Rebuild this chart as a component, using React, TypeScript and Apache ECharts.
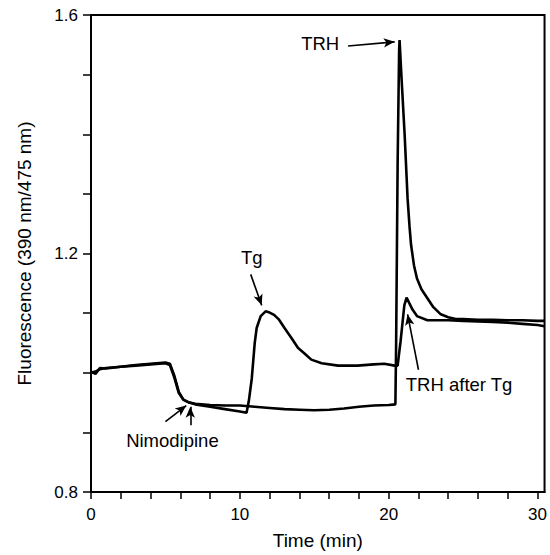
import React, { useEffect, useRef } from "react";
import * as echarts from "echarts";

// Trace with thapsigargin (Tg) followed by TRH after Tg
const tgTime = [0, 0.3, 0.6, 1, 2, 3, 4, 5, 5.3, 5.6, 5.9, 6.2, 6.6, 7, 8, 9, 10, 10.45, 10.6, 10.8, 11.0, 11.13, 11.4, 11.73, 12.0, 12.3, 12.6, 13.0, 13.5, 13.9, 14.4, 14.8, 15.5, 16.6, 17.9, 19.0, 19.7, 20.4, 20.6, 20.8, 21.05, 21.2, 21.4, 21.6, 21.9, 22.6, 23, 24, 25, 26, 27, 28, 29, 30, 30.47];
const tgValues = [1.002, 0.998, 1.008, 1.007, 1.010, 1.013, 1.015, 1.017, 1.015, 0.995, 0.968, 0.955, 0.950, 0.947, 0.943, 0.939, 0.935, 0.933, 0.952, 0.990, 1.050, 1.075, 1.095, 1.103, 1.101, 1.097, 1.090, 1.075, 1.057, 1.042, 1.031, 1.022, 1.016, 1.012, 1.012, 1.014, 1.015, 1.012, 1.012, 1.053, 1.113, 1.126, 1.116, 1.106, 1.095, 1.088, 1.088, 1.088, 1.087, 1.086, 1.085, 1.084, 1.082, 1.080, 1.078];

// Trace with TRH alone
const trhTime = [0, 0.3, 0.6, 1, 2, 3, 4, 5, 5.3, 5.6, 5.9, 6.2, 6.6, 7, 8, 9, 10, 11, 12, 13, 14, 15, 16, 17, 18, 19, 20, 20.45, 20.5, 20.6, 20.7, 20.73, 20.85, 21.07, 21.27, 21.4, 21.5, 21.7, 21.9, 22.2, 22.6, 23.0, 23.5, 24.0, 24.5, 25, 26, 27, 28, 29, 30, 30.47];
const trhValues = [1.000, 1.002, 1.006, 1.008, 1.010, 1.012, 1.014, 1.016, 1.013, 0.992, 0.966, 0.955, 0.950, 0.948, 0.946, 0.945, 0.945, 0.943, 0.941, 0.939, 0.938, 0.937, 0.938, 0.940, 0.943, 0.945, 0.946, 0.947, 1.05, 1.35, 1.54, 1.558, 1.50, 1.40, 1.292, 1.245, 1.215, 1.180, 1.158, 1.140, 1.125, 1.110, 1.098, 1.093, 1.090, 1.090, 1.089, 1.089, 1.088, 1.088, 1.087, 1.087];

const yTickLabels = [0.8, 1.2, 1.6];
const xTickLabels = [0, 10, 20, 30];

// Annotation labels [text, t, value]
const labels: [string, number, number][] = [
  ["TRH", 15.4, 1.552],
  ["Tg", 10.8, 1.193],
  ["Nimodipine", 5.47, 0.887],
  ["TRH after Tg", 24.73, 0.98],
];
// Annotation arrows [t1, v1, t2, v2] (arrowhead at second point)
const arrows: [number, number, number, number][] = [
  [17.27, 1.548, 20.4, 1.555],
  [10.73, 1.165, 11.47, 1.113],
  [5.0, 0.918, 6.4, 0.945],
  [6.67, 0.912, 6.67, 0.943],
  [22.0, 1.005, 21.27, 1.098],
];

const FONT = "Liberation Sans, Arial, Helvetica, sans-serif";

export default function App() {
  const ref = useRef<HTMLDivElement>(null);
  useEffect(() => {
    if (!ref.current) return;
    const chart = echarts.init(ref.current, null, { renderer: "svg" });
    const toPairs = (t: number[], v: number[]) => t.map((x, i) => [x, v[i]]);
    chart.setOption({
      animation: false,
      backgroundColor: "#fff",
      grid: {
        left: 91,
        right: 2,
        top: 15,
        bottom: 60,
        show: true,
        borderColor: "#000",
        borderWidth: 2,
      },
      xAxis: {
        type: "value",
        min: 0,
        max: 30.47,
        interval: 2,
        name: "Time (min)",
        nameLocation: "middle",
        nameGap: 39,
        nameTextStyle: { fontFamily: FONT, fontSize: 19, color: "#000" },
        axisLine: { show: true, onZero: false, lineStyle: { color: "#000", width: 2 } },
        axisTick: { show: true, length: 7, lineStyle: { color: "#000", width: 1.5 } },
        splitLine: { show: false },
        axisLabel: {
          fontFamily: FONT,
          fontSize: 17,
          color: "#000",
          margin: 14,
          showMaxLabel: false,
          formatter: (v: number) =>
            xTickLabels.some((x) => Math.abs(x - v) < 1e-6) ? String(v) : "",
        },
      },
      yAxis: {
        type: "value",
        min: 0.8,
        max: 1.6,
        interval: 0.1,
        name: "Fluorescence (390 nm/475 nm)",
        nameLocation: "middle",
        nameGap: 57,
        nameTextStyle: { fontFamily: FONT, fontSize: 19, color: "#000" },
        axisLine: { show: true, onZero: false, lineStyle: { color: "#000", width: 2 } },
        axisTick: { show: true, length: 8, lineStyle: { color: "#000", width: 1.5 } },
        splitLine: { show: false },
        axisLabel: {
          fontFamily: FONT,
          fontSize: 17,
          color: "#000",
          margin: 13,
          formatter: (v: number) =>
            yTickLabels.some((y) => Math.abs(y - v) < 1e-6) ? v.toFixed(1) : "",
        },
      },
      series: [
        {
          type: "line",
          name: "Tg",
          data: toPairs(tgTime, tgValues),
          showSymbol: false,
          symbol: "none",
          lineStyle: { color: "#000", width: 2.6 },
          z: 3,
          markPoint: {
            silent: true,
            symbol: "circle",
            symbolSize: 0,
            data: labels.map(([text, t, v]) => ({
              coord: [t, v],
              label: {
                show: true,
                position: "inside",
                formatter: text,
                fontFamily: FONT,
                fontSize: 18.5,
                color: "#000",
              },
            })),
          },
          markLine: {
            silent: true,
            symbol: ["none", "arrow"],
            symbolSize: [7, 11],
            label: { show: false },
            lineStyle: { color: "#000", width: 1.6, type: "solid" },
            data: arrows.map(([t1, v1, t2, v2]) => [
              { coord: [t1, v1] },
              { coord: [t2, v2] },
            ]),
          },
        },
        {
          type: "line",
          name: "TRH",
          data: toPairs(trhTime, trhValues),
          showSymbol: false,
          symbol: "none",
          lineStyle: { color: "#000", width: 2.6 },
          z: 3,
        },
      ],
    });
    return () => chart.dispose();
  }, []);
  return (
    <div
      ref={ref}
      style={{ position: "absolute", left: 0, top: 0, width: 550, height: 555 }}
    />
  );
}
